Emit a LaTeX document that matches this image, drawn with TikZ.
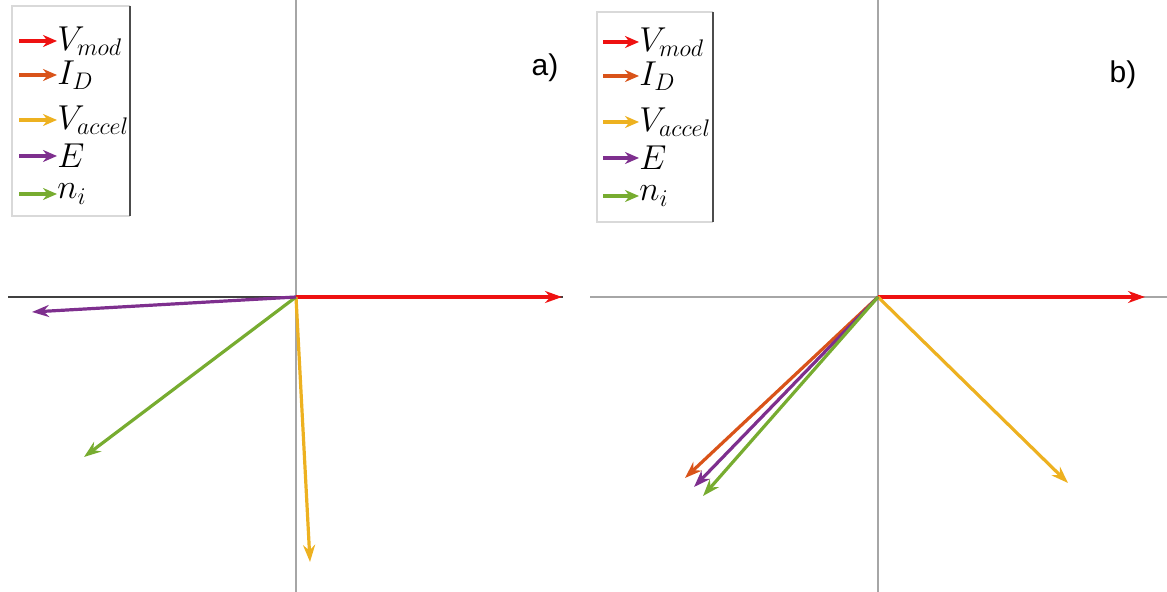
\documentclass[tikz,border=0pt]{standalone}
\usepackage{amsmath}
\usepackage{fontspec}
\setsansfont{Liberation Sans}
\usetikzlibrary{arrows.meta,positioning,calc}
\definecolor{vmod}{HTML}{EE1111}
\definecolor{idc}{HTML}{D95319}
\definecolor{vacc}{HTML}{EDB120}
\definecolor{efield}{HTML}{7E2F8E}
\definecolor{nion}{HTML}{77AC30}
\definecolor{axisgray}{HTML}{A6A6A6}
\definecolor{framegray}{HTML}{D9D9D9}

\begin{document}
\begin{tikzpicture}[x=0.5pt, y=-0.5pt,
  vec/.style={-{Stealth[length=8.5pt, width=6pt]}, line width=1.6pt},
  legvec/.style={-{Stealth[length=7pt, width=6pt]}, line width=1.8pt},
  axis/.style={draw=axisgray, line width=1pt},
  leg/.style={font=\fontsize{16.5}{18}\selectfont, inner sep=0pt, anchor=west},
  panel/.style={font=\sffamily\fontsize{15}{18}\selectfont}]

\useasboundingbox (0,0) rectangle (1167,592);

% panel a
\coordinate (Oa) at (296,297);
\draw[axis] (296,0) -- (296,592);
\draw[draw=black!75, line width=0.9pt] (8,297) -- (563,297);
\coordinate (vmodA) at (562,297);
\coordinate (eA) at (32,312);
\coordinate (niA) at (84,457);
\coordinate (vaccA) at (310,562);
\draw[vec, vmod] (Oa) -- (vmodA);
\draw[vec, vacc] (Oa) -- (vaccA);
\draw[vec, nion] (Oa) -- (niA);
\draw[vec, efield] (Oa) -- (eA);
\node[panel] (labA) at (545,68) {a)};

% legend a
\draw[framegray, line width=0.8pt] (130,6) -- (12,6) -- (12,216) -- (130,216);
\draw[black!70, line width=0.8pt] (130,6) -- (130,216);
\node[leg] (laVmod) at (57,41) {$V_{mod}$};
\node[leg] (laID) at (57,75) {$I_D$};
\node[leg] (laVacc) at (57,120) {$V_{accel}$};
\node[leg] (laE) at (57,156) {$E$};
\node[leg] (laNi) at (57,194) {$n_i$};
\draw[legvec, vmod] ([xshift=-19pt]laVmod.west) -- (laVmod.west);
\draw[legvec, idc] ([xshift=-19pt]laID.west) -- (laID.west);
\draw[legvec, vacc] ([xshift=-19pt]laVacc.west) -- (laVacc.west);
\draw[legvec, efield] ([xshift=-19pt]laE.west) -- (laE.west);
\draw[legvec, nion] ([xshift=-19pt]laNi.west) -- (laNi.west);

% panel b
\coordinate (Ob) at (878,297);
\draw[axis] (878,0) -- (878,592);
\draw[axis] (590,297) -- (1167,297);
\coordinate (vmodB) at (1145,297);
\coordinate (vaccB) at (1068,483);
\coordinate (idB) at (685,478);
\coordinate (eB) at (694,487);
\coordinate (niB) at (703,496);
\draw[vec, vmod] (Ob) -- (vmodB);
\draw[vec, vacc] (Ob) -- (vaccB);
\draw[vec, idc] (Ob) -- (idB);
\draw[vec, efield] (Ob) -- (eB);
\draw[vec, nion] (Ob) -- (niB);
\node[panel] (labB) at (1123,75) {b)};

% legend b
\draw[framegray, line width=0.8pt] (713,12) -- (597,12) -- (597,222) -- (713,222);
\draw[black!70, line width=0.8pt] (713,12) -- (713,222);
\node[leg] (lbVmod) at (639,42) {$V_{mod}$};
\node[leg] (lbID) at (639,76) {$I_D$};
\node[leg] (lbVacc) at (639,122) {$V_{accel}$};
\node[leg] (lbE) at (639,158) {$E$};
\node[leg] (lbNi) at (639,196) {$n_i$};
\draw[legvec, vmod] ([xshift=-18pt]lbVmod.west) -- (lbVmod.west);
\draw[legvec, idc] ([xshift=-18pt]lbID.west) -- (lbID.west);
\draw[legvec, vacc] ([xshift=-18pt]lbVacc.west) -- (lbVacc.west);
\draw[legvec, efield] ([xshift=-18pt]lbE.west) -- (lbE.west);
\draw[legvec, nion] ([xshift=-18pt]lbNi.west) -- (lbNi.west);
\end{tikzpicture}
\end{document}
